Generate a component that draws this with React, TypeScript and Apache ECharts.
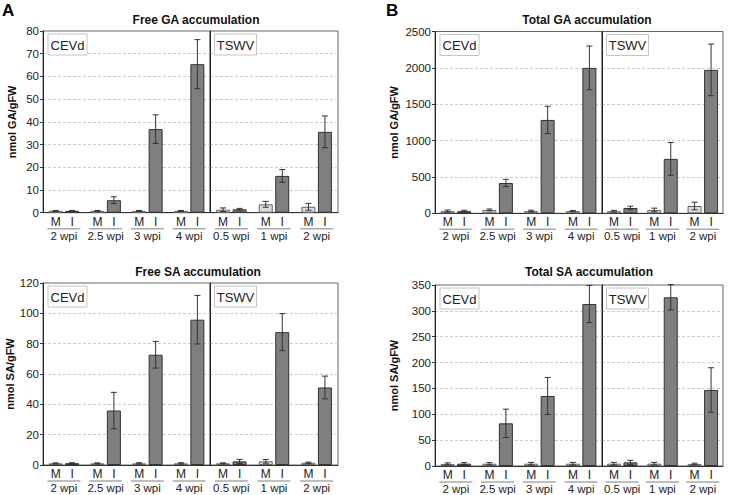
import React, { useEffect, useRef } from "react";
import * as echarts from "echarts";

// ---- categories ----
const cevdWeeks = ["2 wpi", "2.5 wpi", "3 wpi", "4 wpi"];
const tswvWeeks = ["0.5 wpi", "1 wpi", "2 wpi"];

// ---- data: first 4 = CEVd groups, last 3 = TSWV groups ----
const freeGA_M = [0.8, 0.8, 0.8, 0.8, 1.3, 3.7, 2.6];
const freeGA_Merr = [0.2, 0.2, 0.2, 0.2, 0.8, 1.3, 1.5];
const freeGA_I = [0.8, 5.5, 36.8, 65.4, 1.5, 16.2, 35.6];
const freeGA_Ierr = [0.2, 1.5, 6.3, 10.8, 0.4, 2.8, 7];

const totalGA_M = [30, 46, 30, 30, 28, 46, 100];
const totalGA_Merr = [15, 13, 12, 10, 12, 25, 52];
const totalGA_I = [30, 417, 1284, 2000, 73, 748, 1972];
const totalGA_Ierr = [12, 50, 188, 300, 25, 225, 355];

const freeSA_M = [1.1, 1.1, 1.1, 1.1, 1.1, 2.4, 1.5];
const freeSA_Merr = [0.3, 0.3, 0.4, 0.4, 0.3, 1.2, 0.4];
const freeSA_I = [1.2, 35.9, 72.7, 95.8, 2.4, 87.6, 51.1];
const freeSA_Ierr = [0.3, 12, 8.8, 16, 1.3, 12.2, 7.5];

const totalSA_M = [4, 4.5, 4.5, 4.5, 4.5, 4.5, 4];
const totalSA_Merr = [2, 2, 2.5, 2.5, 2.5, 2.5, 1.5];
const totalSA_I = [4.5, 82.5, 135.4, 313.3, 7, 326.2, 147];
const totalSA_Ierr = [2, 27.4, 35.8, 36, 4, 24.5, 43];

const panelTitles = ["Free GA accumulation", "Total GA accumulation", "Free SA accumulation", "Total SA accumulation"];
const yNames = ["nmol GA/gFW", "nmol GA/gFW", "nmol SA/gFW", "nmol SA/gFW"];
const yMax = [80, 2500, 120, 350];
const yInterval = [10, 500, 20, 50];

const FONT = "'Liberation Sans', Arial, Helvetica, sans-serif";

const panels = [
  { M: freeGA_M, Me: freeGA_Merr, I: freeGA_I, Ie: freeGA_Ierr, L: 43, R: 338, D: 210, T: 31, B: 212.7, tx: 196, ty: 20, gap: 26, letter: "A", lx: 2 },
  { M: totalGA_M, Me: totalGA_Merr, I: totalGA_I, Ie: totalGA_Ierr, L: 435, R: 723, D: 602, T: 31.5, B: 213.3, tx: 587, ty: 20, gap: 36, letter: "B", lx: 386 },
  { M: freeSA_M, Me: freeSA_Merr, I: freeSA_I, Ie: freeSA_Ierr, L: 43, R: 338, D: 210, T: 283, B: 465, tx: 198, ty: 272, gap: 26, letter: "", lx: 0 },
  { M: totalSA_M, Me: totalSA_Merr, I: totalSA_I, Ie: totalSA_Ierr, L: 435, R: 723, D: 602, T: 285, B: 466, tx: 589, ty: 272, gap: 36, letter: "", lx: 0 },
];

const BAR_W = 14;
const OFFSET = (BAR_W + BAR_W * 0.18) / 2;

export default function App() {
  const ref = useRef<HTMLDivElement>(null);
  useEffect(() => {
    document.body.style.margin = "0";
    const chart = echarts.init(ref.current!, null, { renderer: "svg" });
    const grid: any[] = [];
    const xAxis: any[] = [];
    const yAxis: any[] = [];
    const series: any[] = [];
    const graphic: any[] = [];

    panels.forEach((p, pi) => {
      const subs = [
        { weeks: cevdWeeks, from: 0, to: 4, left: p.L, width: p.D - p.L, label: "CEVd", bw: 39 },
        { weeks: tswvWeeks, from: 4, to: 7, left: p.D, width: p.R - p.D, label: "TSWV", bw: 42 },
      ];
      subs.forEach((s, si) => {
        const gi = grid.length;
        grid.push({
          left: s.left, top: p.T, width: s.width, height: p.B - p.T,
          show: true, borderColor: "#666", borderWidth: 1, backgroundColor: "transparent",
        });
        xAxis.push({
          type: "category", gridIndex: gi, data: s.weeks,
          axisTick: { show: false },
          axisLine: { lineStyle: { color: "#333", width: 1 } },
          axisLabel: {
            interval: 0, margin: 3, color: "#222", fontFamily: FONT,
            formatter: (v: string) => `{mi|M}{mi|I}\n{ul| }\n{wk|${v}}`,
            rich: {
              mi: { width: OFFSET * 2, align: "center", fontSize: 12, lineHeight: 12, fontFamily: FONT, color: "#222" },
              ul: { width: 33, height: 1.5, backgroundColor: "#aaa", fontSize: 1, lineHeight: 2 },
              wk: { fontSize: 11.5, lineHeight: 12, fontFamily: FONT, color: "#222" },
            },
          },
        });
        yAxis.push({
          type: "value", gridIndex: gi, min: 0, max: yMax[pi], interval: yInterval[pi],
          axisLine: { show: true, lineStyle: { color: "#222", width: 1 } },
          axisTick: { show: si === 0, length: 3, lineStyle: { color: "#333" } },
          axisLabel: { show: si === 0, margin: 4, fontSize: 11.5, color: "#222", fontFamily: FONT, formatter: (v: number) => String(v) },
          splitLine: { show: true, showMinLine: false, showMaxLine: false, lineStyle: { color: "#ccc", type: [3, 2], width: 1 } },
          name: si === 0 ? yNames[pi] : "",
          nameLocation: "middle", nameGap: p.gap,
          nameTextStyle: { fontWeight: "bold", fontSize: 11, color: "#111", fontFamily: FONT },
        });
        const mVals = p.M.slice(s.from, s.to);
        const iVals = p.I.slice(s.from, s.to);
        const mErr = p.Me.slice(s.from, s.to);
        const iErr = p.Ie.slice(s.from, s.to);
        series.push({
          type: "bar", xAxisIndex: gi, yAxisIndex: gi, data: mVals, barWidth: BAR_W, barGap: "18%",
          itemStyle: { color: "#dcdcdc", borderColor: "#666", borderWidth: 1 },
        });
        series.push({
          type: "bar", xAxisIndex: gi, yAxisIndex: gi, data: iVals, barWidth: BAR_W, barGap: "18%",
          itemStyle: { color: "#7f7f7f", borderColor: "#333", borderWidth: 1 },
        });
        const errData: any[] = [];
        mVals.forEach((v, k) => errData.push([k, v, mErr[k], 0]));
        iVals.forEach((v, k) => errData.push([k, v, iErr[k], 1]));
        series.push({
          type: "custom", xAxisIndex: gi, yAxisIndex: gi, data: errData, z: 10,
          encode: { x: 0, y: 1 },
          renderItem: (params: any, api: any) => {
            const k = api.value(0), v = api.value(1), e = api.value(2), w = api.value(3);
            const off = (w === 0 ? -1 : 1) * OFFSET;
            const top = api.coord([k, v + e]);
            const bot = api.coord([k, Math.max(0, v - e)]);
            const x = top[0] + off;
            const st = { stroke: "#333", lineWidth: 1 };
            return {
              type: "group",
              children: [
                { type: "line", shape: { x1: x, y1: top[1], x2: x, y2: bot[1] }, style: st },
                { type: "line", shape: { x1: x - 3, y1: top[1], x2: x + 3, y2: top[1] }, style: st },
                { type: "line", shape: { x1: x - 3, y1: bot[1], x2: x + 3, y2: bot[1] }, style: st },
              ],
            };
          },
        });
        // label box
        const bx = s.left + (si === 0 ? 5 : 4.5);
        const by = p.T + 3;
        graphic.push({
          type: "rect", shape: { x: bx, y: by, width: s.bw, height: 21 },
          style: { fill: "#fff", stroke: "#c4c4c4", lineWidth: 1 }, z: 20,
        });
        graphic.push({
          type: "text", x: bx + s.bw / 2, y: by + 11, z: 21,
          style: { text: s.label, fill: "#222", font: `13px ${FONT}`, textAlign: "center", textVerticalAlign: "middle", align: "center", verticalAlign: "middle" },
        });
      });
      graphic.push({
        type: "text", x: p.tx, y: p.ty,
        style: { text: panelTitles[pi], fill: "#111", font: `bold 12px ${FONT}`, textAlign: "center", textVerticalAlign: "middle", align: "center", verticalAlign: "middle" },
      });
      if (p.letter) {
        graphic.push({
          type: "text", x: p.lx, y: 2,
          style: { text: p.letter, fill: "#000", font: `bold 17px ${FONT}` },
        });
      }
    });

    chart.setOption({
      animation: false,
      backgroundColor: "#fff",
      grid, xAxis, yAxis, series, graphic,
    });
    return () => chart.dispose();
  }, []);
  return <div ref={ref} style={{ position: "fixed", left: 0, top: 0, width: 733, height: 495 }} />;
}
